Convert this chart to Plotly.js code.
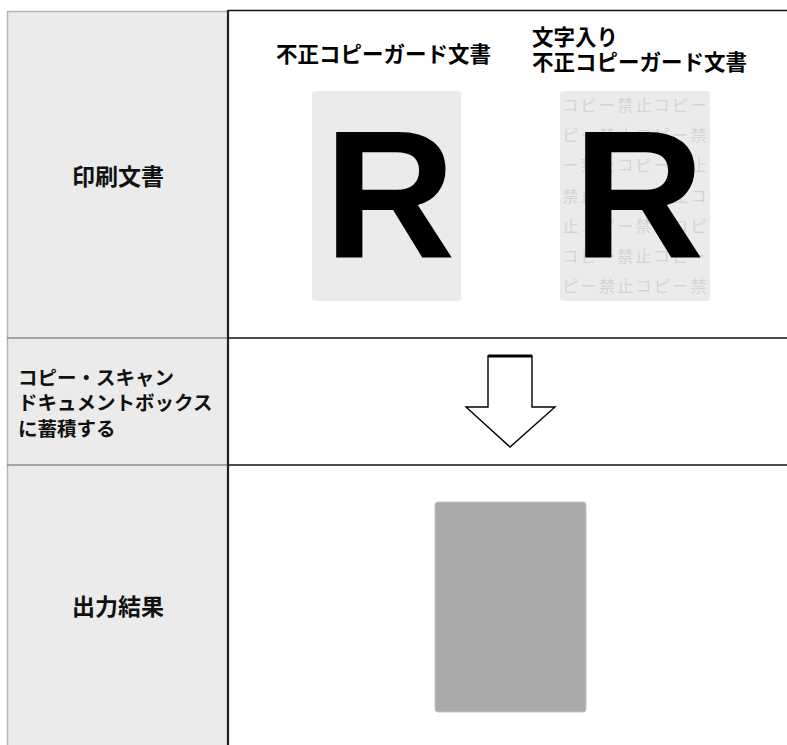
<!DOCTYPE html>
<html>
<head>
<meta charset="utf-8">
<script src="https://cdn.plot.ly/plotly-3.0.1.min.js"></script>
<style>html,body{margin:0;padding:0;background:#fff;}#chart{width:787px;height:745px;}</style>
</head>
<body>
<div id="chart"></div>
<script>
// ---- content ----
const rowLabels = ['印刷文書', 'コピー・スキャン<br>ドキュメントボックス<br>に蓄積する', '出力結果'];
const docTitle1 = '不正コピーガード文書';
const docTitle2a = '文字入り';
const docTitle2b = '不正コピーガード文書';
const docLetter = 'R';
const watermarkRows = [
  '止コピー禁止コピー',
  'コピー禁止コピー禁',
  'ピー禁止コピー禁止',
  'ー禁止コピー禁止コ',
  '禁止コピー禁止コピ',
  '止コピー禁止コピー',
  'コピー禁止コピー禁'
];

const W = 787, H = 745;
const JP = 'Noto Sans CJK JP';

function rrect(x0, y0, x1, y1, r) {
  return `M${x0+r},${y0} L${x1-r},${y0} Q${x1},${y0} ${x1},${y0+r} L${x1},${y1-r} Q${x1},${y1} ${x1-r},${y1} L${x0+r},${y1} Q${x0},${y1} ${x0},${y1-r} L${x0},${y0+r} Q${x0},${y0} ${x0+r},${y0} Z`;
}

// layout geometry (pixels)
const colL = 7, colR = 228, topY = 10.5, row1Y = 338, row2Y = 465;
const doc1 = [312, 91, 461, 301];
const doc2 = [560, 91, 710, 301];
const outDoc = [435, 502, 586, 712];

const shapes = [
  {type:'rect', xref:'x', yref:'y', x0:colL, x1:colR, y0:11, y1:H, fillcolor:'#ebebeb', line:{width:0}, layer:'below'},
  {type:'line', xref:'x', yref:'y', x0:colL+0.5, x1:colL+0.5, y0:11, y1:H, line:{color:'#b4b4b4', width:1.5}, layer:'below'},
  {type:'line', xref:'x', yref:'y', x0:colL, x1:colR, y0:11.5, y1:11.5, line:{color:'#b4b4b4', width:1.5}, layer:'below'},
  {type:'line', xref:'x', yref:'y', x0:colL, x1:colR, y0:row1Y, y1:row1Y, line:{color:'#8c8c8c', width:1.5}, layer:'below'},
  {type:'line', xref:'x', yref:'y', x0:colL, x1:colR, y0:row2Y, y1:row2Y, line:{color:'#8c8c8c', width:1.5}, layer:'below'},
  {type:'line', xref:'x', yref:'y', x0:colR, x1:W, y0:row1Y, y1:row1Y, line:{color:'#111', width:1.5}, layer:'below'},
  {type:'line', xref:'x', yref:'y', x0:colR, x1:W, y0:row2Y, y1:row2Y, line:{color:'#111', width:1.5}, layer:'below'},
  {type:'line', xref:'x', yref:'y', x0:colR, x1:W, y0:topY, y1:topY, line:{color:'#111', width:1.5}, layer:'below'},
  {type:'line', xref:'x', yref:'y', x0:colR, x1:colR, y0:topY-0.5, y1:H, line:{color:'#222', width:2.2}, layer:'below'},
  {type:'path', xref:'x', yref:'y', path:rrect(...doc1, 3), fillcolor:'#ebebeb', line:{width:0}, layer:'below'},
  {type:'path', xref:'x', yref:'y', path:rrect(...doc2, 3), fillcolor:'#ebebeb', line:{width:0}, layer:'below'},
  {type:'path', xref:'x', yref:'y', path:rrect(...outDoc, 3), fillcolor:'#aaaaaa', line:{color:'#c4c4c4', width:1}, layer:'below'},
  {type:'path', xref:'x', yref:'y', path:'M488,356 L532,356 L532,407 L555,407 L510,447 L466,407 L488,407 Z', fillcolor:'#fff', line:{color:'#000', width:1.4}, layer:'below'},
  {type:'line', xref:'x', yref:'y', x0:488, x1:532, y0:356, y1:356, line:{color:'#000', width:3}, layer:'below'}
];

const annotations = [
  {x:117.5, y:175, text:rowLabels[0], font:{family:JP, size:23, color:'#111', weight:'bold'}},
  {x:16, y:402, xanchor:'left', align:'left', text:rowLabels[1], font:{family:JP, size:19.5, color:'#111', weight:'bold'}},
  {x:117.5, y:605, text:rowLabels[2], font:{family:JP, size:23, color:'#111', weight:'bold'}},
  {x:383, y:52, text:docTitle1, font:{family:JP, size:21.5, color:'#000', weight:'bold'}},
  {x:530, y:35, xanchor:'left', text:docTitle2a, font:{family:JP, size:21.5, color:'#000', weight:'bold'}},
  {x:530, y:60, xanchor:'left', text:docTitle2b, font:{family:JP, size:21.5, color:'#000', weight:'bold'}},
  {x:(doc1[0]+doc1[2])/2 + 3, y:195, text:docLetter, font:{family:'Liberation Sans', size:182, color:'#000', weight:'bold'}},
  {x:(doc2[0]+doc2[2])/2 + 3, y:195, text:docLetter, font:{family:'Liberation Sans', size:182, color:'#000', weight:'bold'}}
].map(a => Object.assign({xref:'x', yref:'y', showarrow:false, xanchor:'center', yanchor:'middle'}, a));

// watermark characters (clipped to the second document)
const wmX0 = 552, wmPitch = 18.3, wmY0 = 107, wmStep = 30.2;
const wx = [], wy = [], wt = [];
watermarkRows.forEach((row, i) => {
  Array.from(row).forEach((ch, k) => {
    wx.push(wmX0 + k * wmPitch);
    wy.push(wmY0 + i * wmStep);
    wt.push(ch);
  });
});

const data = [
  {type:'scatter', mode:'text', x:[0], y:[0], text:[''], xaxis:'x', yaxis:'y', hoverinfo:'skip'},
  {type:'scatter', mode:'text', x:wx, y:wy, text:wt, xaxis:'x2', yaxis:'y2', cliponaxis:true,
   textposition:'middle center', textfont:{family:JP, size:16, color:'#d4d4d4'}, hoverinfo:'skip'}
];

const layout = {
  width:W, height:H, margin:{l:0, r:0, t:0, b:0, pad:0},
  paper_bgcolor:'#fff', plot_bgcolor:'rgba(0,0,0,0)', showlegend:false,
  xaxis:{range:[0, W], domain:[0,1], visible:false, fixedrange:true},
  yaxis:{range:[H, 0], domain:[0,1], visible:false, fixedrange:true},
  xaxis2:{range:[doc2[0], doc2[2]], domain:[doc2[0]/W, doc2[2]/W], anchor:'y2', visible:false, fixedrange:true},
  yaxis2:{range:[doc2[3], doc2[1]], domain:[1-doc2[3]/H, 1-doc2[1]/H], anchor:'x2', visible:false, fixedrange:true},
  shapes:shapes, annotations:annotations
};

Plotly.newPlot('chart', data, layout, {staticPlot:true, displayModeBar:false});
</script>
</body>
</html>
